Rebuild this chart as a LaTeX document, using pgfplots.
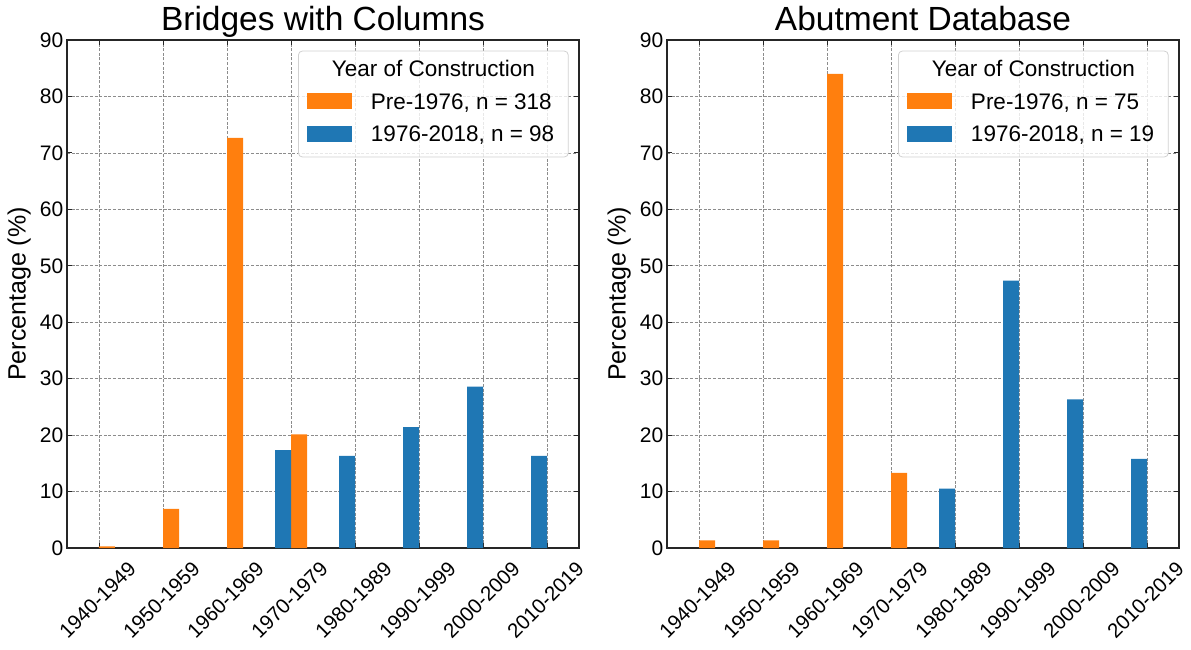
\documentclass[border=0pt]{standalone}
\usepackage{pgfplots}
\pgfplotsset{compat=1.18}
\usepackage{fontspec}
\setmainfont{Liberation Sans}

\definecolor{corange}{HTML}{FF7F0E}
\definecolor{cblue}{HTML}{1F77B4}

\tikzset{
  legendbox/.style={draw=black!18, line width=0.8pt, fill=white, fill opacity=0.8, rounded corners=4pt},
}

\pgfplotsset{
  decadeaxis/.style={
    anchor=south west,
    scale only axis,
    width=512pt, height=508pt,
    xmin=-0.5, xmax=7.5, ymin=0, ymax=90,
    xtick={0,...,7},
    xticklabels={1940-1949,1950-1959,1960-1969,1970-1979,1980-1989,1990-1999,2000-2009,2010-2019},
    ytick={0,10,...,90},
    tick align=inside,
    xtick pos=both, ytick pos=both,
    xticklabel pos=lower, yticklabel pos=left,
    major tick length=5pt,
    tick style={black!85, line width=0.9pt},
    axis line style={black!85, line width=1.3pt},
    grid=major,
    major grid style={black!45, line width=0.7pt, dash pattern=on 3pt off 1.6pt},
    /pgf/number format/assume math mode=true,
    yticklabel style={font=\fontsize{21}{25}\selectfont, anchor=east, inner sep=0pt, xshift=-3.5pt},
    xticklabel style={font=\fontsize{20.5}{25}\selectfont, inner sep=0pt, xshift=28pt, yshift=-12pt, rotate=45, anchor=north east},
    every axis y label/.style={at={(axis description cs:-0.081,0.5)}, rotate=90, anchor=base, inner sep=0pt, font=\fontsize{25}{30}\selectfont},
    ylabel={Percentage (\%)},
    every axis title shift=0pt,
    title style={at={(axis description cs:0.5,1)}, anchor=base, yshift=9.3pt, inner sep=0pt, font=\fontsize{33.5}{40}\selectfont},
    legend style={at={(axis description cs:0.4693,0.8957)}, anchor=north west,
      draw=none, fill=none, inner sep=0pt, row sep=12.7pt, column sep=18.5pt,
      font=\fontsize{22.5}{27}\selectfont,
      cells={anchor=base west},
      nodes={inner sep=0pt, text height=16pt, text depth=4pt}},
  },
  prebar/.style={ybar, bar width=0.25, bar shift=0.125, fill=corange, draw=none,
    legend image code/.code={\fill[corange] (0pt,0pt) rectangle (45pt,16pt);}},
  postbar/.style={ybar, bar width=0.25, bar shift=-0.125, fill=cblue, draw=none,
    legend image code/.code={\fill[cblue] (0pt,0pt) rectangle (45pt,16pt);}},
}

\begin{document}
\begin{tikzpicture}
\path[use as bounding box] (0pt,0pt) rectangle (1191pt,649pt);

% Bridges with columns: share of bridges by decade built
\begin{axis}[decadeaxis, at={(67pt,101pt)}, title={Bridges with Columns}]
  \draw[legendbox] (rel axis cs:0.452,0.7697) rectangle (rel axis cs:0.979,0.9783);
  \node[anchor=base, inner sep=0pt, font=\fontsize{22.5}{27}\selectfont]
    at (rel axis cs:0.7155,0.9278) {Year of Construction};
  \addplot[prebar] coordinates {(0,0.31) (1,6.92) (2,72.64) (3,20.13)};
  \addlegendentry{Pre-1976, n = 318}
  \addplot[postbar] coordinates {(3,17.35) (4,16.33) (5,21.43) (6,28.57) (7,16.33)};
  \addlegendentry{1976-2018, n = 98}
\end{axis}

% Abutment database
\begin{axis}[decadeaxis, at={(667pt,101pt)}, title={Abutment Database}]
  \draw[legendbox] (rel axis cs:0.452,0.7697) rectangle (rel axis cs:0.979,0.9783);
  \node[anchor=base, inner sep=0pt, font=\fontsize{22.5}{27}\selectfont]
    at (rel axis cs:0.7155,0.9278) {Year of Construction};
  \addplot[prebar] coordinates {(0,1.33) (1,1.33) (2,84.0) (3,13.33)};
  \addlegendentry{Pre-1976, n = 75}
  \addplot[postbar] coordinates {(4,10.53) (5,47.37) (6,26.32) (7,15.79)};
  \addlegendentry{1976-2018, n = 19}
\end{axis}
\end{tikzpicture}
\end{document}
